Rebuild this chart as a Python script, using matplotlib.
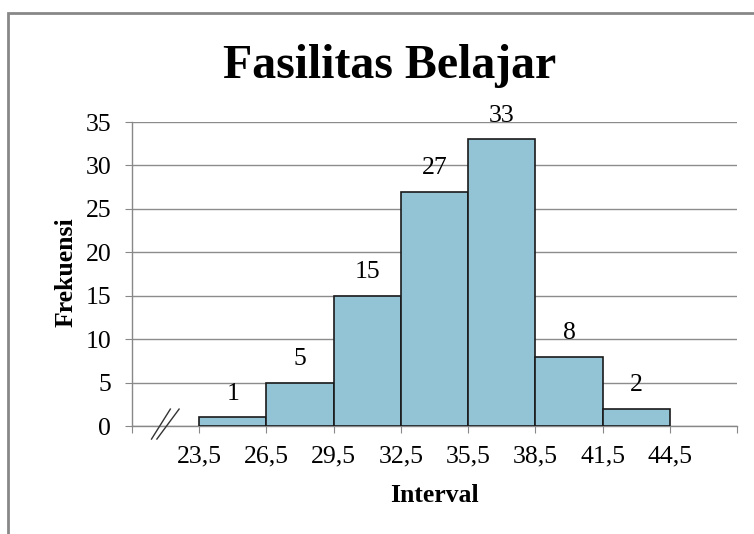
import numpy as np
import matplotlib
matplotlib.use("Agg")
import matplotlib.pyplot as plt
from matplotlib.patches import Rectangle

# data
edges = ["23,5", "26,5", "29,5", "32,5", "35,5", "38,5", "41,5", "44,5"]
freq = [1, 5, 15, 27, 33, 8, 2]
yticks = [0, 5, 10, 15, 20, 25, 30, 35]

plt.rcParams['font.family'] = ['Liberation Serif', 'DejaVu Serif']

fig = plt.figure(figsize=(7.54, 5.34), dpi=100)
ax = fig.add_axes([0.1751, 0.2022, 0.8024, 0.5693])

# outer frame of the chart (cut at the right and bottom like the screenshot)
fig.patches.append(Rectangle((8 / 754, -0.1), 1.2, 1 - 13 / 534 + 0.1,
                             transform=fig.transFigure, fill=False,
                             edgecolor='#888888', linewidth=2))

# bars sit in slots 1..7, slot 0 is the axis break, slot 8 is empty
pos = np.arange(1, len(freq) + 1) + 0.5
bars = ax.bar(pos, freq, width=1.0, color='#93C4D5', edgecolor='#1a1a1a',
              linewidth=1.2, zorder=3)
ax.bar_label(bars, labels=[str(f) for f in freq], padding=9, fontsize=18.5)

ax.set_xlim(0, len(freq) + 2)
ax.set_ylim(0, 35)
ax.set_xticks(np.arange(0, len(freq) + 3))
ax.set_xticklabels([""] + edges + [""])
ax.set_yticks(yticks)
ax.tick_params(axis='both', labelsize=18.5, color='#888888', length=5)
ax.tick_params(axis='x', pad=9)
ax.tick_params(axis='y', pad=10)

ax.yaxis.grid(True, color='#8c8c8c', linewidth=1)
ax.set_axisbelow(True)
for s in ['top', 'right']:
    ax.spines[s].set_visible(False)
for s in ['left', 'bottom']:
    ax.spines[s].set_color('#888888')
    ax.spines[s].set_linewidth(1)

# axis break marks "//"
ax.plot([0.29, 0.57], [-1.5, 1.95], color='#333333', lw=1, clip_on=False, zorder=4)
ax.plot([0.37, 0.70], [-1.5, 1.95], color='#333333', lw=1, clip_on=False, zorder=4)

ax.set_xlabel("Interval", fontsize=18.5, fontweight='bold')
ax.xaxis.set_label_coords(0.5, -0.19)
ax.set_ylabel("Frekuensi", fontsize=18.5, fontweight='bold')
ax.yaxis.set_label_coords(-0.09, 0.507)

fig.text(390 / 754, 1 - 66 / 534, "Fasilitas Belajar", fontsize=34.5,
         fontweight='bold', ha='center', va='center')

fig.savefig("out.png", dpi=100)
